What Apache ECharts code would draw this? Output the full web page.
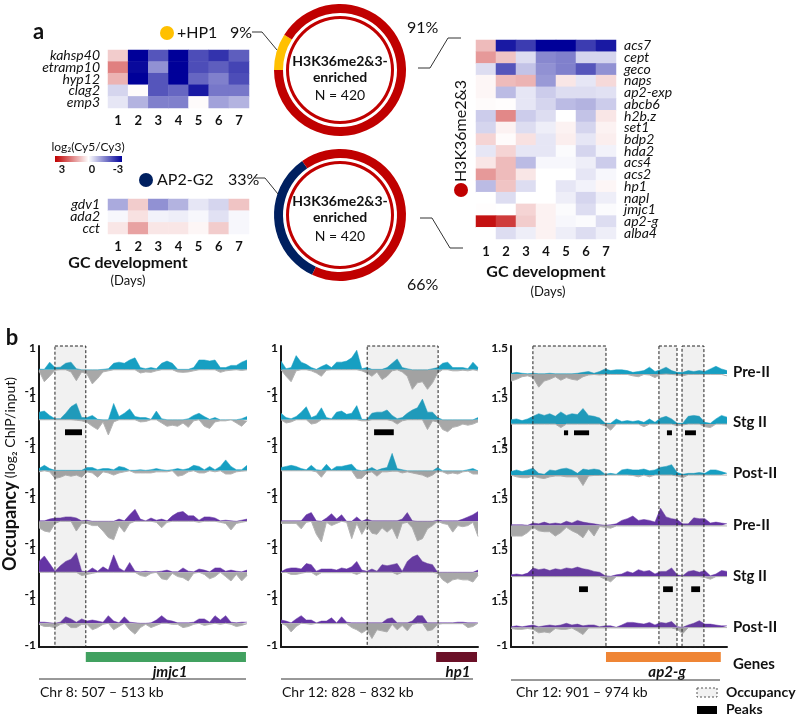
<!DOCTYPE html>
<html><head><meta charset="utf-8">
<script src="https://cdn.jsdelivr.net/npm/echarts@6/dist/echarts.min.js"></script>
<style>html,body{margin:0;padding:0;background:#fff}#c{width:797px;height:714px}</style>
</head><body><div id="c"></div><script>
// ---------------- DATA ----------------
const DAYS = ['1','2','3','4','5','6','7'];
const HP1_GENES = ['kahsp40','etramp10','hyp12','clag2','emp3'];
const HP1_VALUES = [
  [0.6,-3,-2.0,-3,-2.1,-2.4,-1.9],
  [1.5,-2.9,-1.3,-3,-2.1,-1.9,-2.2],
  [0.9,-3,-2.0,-3,-1.8,-1.5,-2.1],
  [-0.5,0.05,-2.0,-1.8,-2.7,-1.6,-1.6],
  [-0.3,-0.9,-1.5,-1.5,0.05,-1.1,-0.9]
];
const AP2G2_GENES = ['gdv1','ada2','cct'];
const AP2G2_VALUES = [
  [-1.0,0.6,-1.3,-0.9,-0.3,-0.5,0.7],
  [-0.1,0.35,-0.15,-0.2,-0.1,-0.35,-0.1],
  [0.3,1.1,0.3,0.3,0.1,0.6,-0.1]
];
const H3K36_GENES = ['acs7','cept','geco','naps','ap2-exp','abcb6','h2b.z','set1','bdp2','hda2','acs4','acs2','hp1','napl','jmjc1','ap2-g','alba4'];
const H3K36_VALUES = [
  [0.8,-2.7,-2.3,-3,-3,-2.3,-2.7],
  [1.2,0.7,-0.4,-1.4,-1.5,-0.5,-0.5],
  [-0.4,-2.0,-0.7,-1.3,-1.5,-2.0,-1.3],
  [0.1,0.8,0.9,-1.2,0.3,-0.3,0.45],
  [0.1,-0.8,-0.3,-0.6,-0.4,-0.4,-0.35],
  [0.05,0.02,-0.3,-0.5,-0.8,-0.9,-0.6],
  [-0.6,1.4,-0.6,-0.4,0,-0.7,0.3],
  [-0.5,0.15,-0.4,-0.2,0.15,-0.5,0.15],
  [0.5,0.05,0.35,-0.3,0.2,-0.3,0.2],
  [-0.3,0.5,-0.3,-0.3,-0.05,-0.5,-0.15],
  [0.3,0.8,-0.8,-0.1,-0.1,-0.2,-0.6],
  [1.2,0.8,0.3,0,0,-0.3,-0.1],
  [-0.8,0.7,-0.4,0,-0.3,-0.15,0.1],
  [0,-0.4,0,0,-0.2,-0.5,-0.2],
  [0.02,0,0.5,0.15,-0.05,-0.4,-0.05],
  [2.8,2.3,0.6,0.15,-0.1,-0.05,-0.4],
  [0,-0.4,-0.2,0.15,-0.2,-0.4,-0.2]
];
const HP1_SHARE = [9, 91];
const AP2G2_SHARE = [33, 66];

// Genome windows (kb)
const JMJC1_KB = [507, 513];
const HP1_KB = [828, 832];
const AP2G_KB = [901, 974];
const TRACK_NAMES = ['Pre-II','Stg II','Post-II','Pre-II','Stg II','Post-II'];

// jmjc1 window tracks (positive / negative parts)
const c1_r1_pos = [0.03,0.02,0.35,0.1,0.12,0.3,0.35,0.05,0,0,0,0,0.02,0.05,0.3,0.35,0.3,0.45,0.55,0.1,0.05,0.1,0.05,0.3,0.4,0.3,0.02,0.02,0.02,0.1,0.45,0.45,0.4,0.45,0.1,0.1,0.2,0.2,0.35,0.45];
const c1_r1_neg = [-0.05,-0.55,-0.3,-0.02,0,0,-0.1,-0.5,-0.1,-0.2,-0.65,-0.4,-0.1,-0.05,0,0,0,0,0,-0.15,-0.1,-0.12,-0.05,0,0,0,-0.1,-0.12,-0.1,-0.05,0,0,0,0,-0.12,-0.05,-0.02,0,-0.03,0];
const c1_r2_pos = [0.35,0.4,0.2,0.05,0.05,0.3,0.6,0.75,0.1,0.1,0.2,0.02,0,0,0.75,0.15,0.3,0.5,0.15,0.1,0.1,0.02,0.4,0.05,0,0,0,0,0.05,0.2,0.3,0.15,0.02,0.1,0,0,0,0,0.05,0.15];
const c1_r2_neg = [0,0,0,0,0,0,0,-0.02,-0.05,-0.12,-0.3,-0.45,-0.1,-0.7,-0.1,0,0,0,0,-0.1,-0.08,0,0,-0.15,-0.3,-0.25,-0.3,-0.15,-0.35,-0.05,0,-0.3,-0.4,-0.1,-0.05,-0.05,0,-0.15,-0.3,-0.05];
const c1_r3_pos = [0.1,0.25,0.1,0.02,0.02,0.02,0.02,0.02,0.02,0.15,0.15,0.05,0.1,0.1,0.05,0.2,0.15,0.02,0.02,0.05,0.02,0.05,0.1,0.05,0.02,0.05,0.1,0.05,0.1,0.25,0.2,0.05,0.2,0.05,0.2,0.5,0.2,0.05,0.05,0.25];
const c1_r3_neg = [-0.05,0,-0.05,-0.35,-0.3,-0.2,-0.25,-0.2,-0.3,-0.05,-0.1,-0.3,-0.05,-0.1,-0.2,-0.1,-0.05,0,-0.1,-0.1,-0.1,-0.1,-0.05,-0.05,-0.05,0,-0.25,-0.2,-0.05,0,-0.1,-0.1,0,-0.05,0,-0.15,-0.15,-0.05,-0.02,0];
const c1_r4_pos = [0.02,0.02,0.1,0.15,0.15,0.2,0.2,0.15,0.02,0.05,0,0,0,0,0,0.1,0.02,0.3,0.55,0.1,0.02,0.15,0.05,0.1,0.02,0.25,0.4,0.45,0.25,0.25,0.05,0.2,0.2,0.15,0.02,0.05,0.02,0,0.05,0.1];
const c1_r4_neg = [-0.3,-0.45,-0.5,-0.1,0,0,0,-0.45,-0.1,-0.1,-0.2,-0.2,-0.45,-0.75,-0.85,-0.2,-0.5,-0.1,0,0,0,0,-0.05,-0.3,-0.05,0,0,0,0,0,-0.05,0,0,0,-0.05,-0.1,-0.4,-0.1,-0.05,0];
const c1_r5_pos = [0.5,0.75,0.4,0.05,0.3,0.5,0.6,0.9,0.05,0.02,0.2,0.05,0.25,0.1,0.8,0.2,0.05,0.45,0.05,0.02,0.05,0.02,0.02,0.05,0.1,0.02,0.02,0.2,0.05,0.02,0.15,0.1,0.02,0.2,0.2,0.05,0.1,0.05,0.02,0.1];
const c1_r5_neg = [0,0,0,0,0,0,0,0,-0.15,-0.1,-0.05,0,0,0,0,0,0,0,0,-0.15,-0.2,-0.05,0,-0.3,-0.35,-0.05,-0.2,-0.25,-0.4,-0.05,0,-0.1,-0.3,-0.2,0,-0.2,-0.4,-0.1,-0.4,-0.15];
const c1_r6_pos = [0.05,0.05,0.02,0,0.05,0.3,0.2,0.05,0.2,0.1,0.15,0.1,0.05,0.35,0.1,0.02,0.3,0.05,0.02,0,0,0.02,0.15,0.35,0.15,0.1,0.02,0.02,0.02,0.05,0.2,0.2,0.05,0.35,0.15,0.35,0.05,0.02,0.05,0.05];
const c1_r6_neg = [-0.05,-0.15,-0.15,-0.2,-0.05,0,-0.2,-0.2,-0.05,-0.05,-0.3,-0.2,-0.05,0,-0.3,-0.15,0,-0.3,-0.5,-0.2,-0.05,-0.2,-0.1,0,0,-0.05,-0.05,-0.2,-0.15,-0.05,0,-0.1,-0.05,0,-0.05,0,-0.05,-0.15,-0.1,-0.02];

// hp1 window tracks
const c2_r1_pos = [0.4,0.05,0.1,0.65,0.35,0.25,0.1,0.02,0.15,0.25,0.1,0.35,0.35,0.4,0.55,0.9,0.05,0.1,0.02,0.02,0.02,0.1,0.3,0.5,0.1,0.05,0,0,0,0,0.05,0.1,0.3,0.35,0.1,0.1,0.1,0.05,0.35,0.1];
const c2_r1_neg = [0,-0.3,-0.55,-0.05,0,0,-0.05,-0.15,-0.3,-0.02,0,0,0,0,0,0,-0.05,-0.15,-0.3,-0.1,-0.45,-0.3,-0.05,0,-0.1,-0.3,-0.9,-0.6,-0.55,-0.9,-0.6,-0.15,0,0,-0.05,-0.05,-0.02,-0.05,0,-0.05];
const c2_r2_pos = [0.3,0.1,0.05,0.15,0.35,0.6,0.1,0.2,0.55,0.1,0.05,0.35,0.4,0.25,0.3,0.65,0.02,0.02,0.3,0.35,0.35,0.45,0.2,0.05,0.1,0.3,0.45,0.55,0.95,0.35,0.35,0.1,0,0,0,0,0,0,0,0.1];
const c2_r2_neg = [0,-0.15,-0.1,0,0,0,-0.2,-0.15,0,0,0,0,0,0,0,0,-0.05,-0.05,0,0,0,0,-0.05,-0.2,-0.05,0,0,0,0,-0.45,-0.05,-0.1,-0.45,-0.55,-0.35,-0.3,-0.2,-0.25,-0.2,-0.1];
const c2_r3_pos = [0.15,0.2,0.25,0.2,0.1,0.05,0.25,0.05,0.02,0.3,0.05,0.2,0.2,0.25,0.3,0.05,0,0.05,0.15,0.02,0.1,0.15,0.8,0.1,0.05,0,0,0,0,0,0,0.15,0,0,0,0,0,0.05,0.1,0];
const c2_r3_neg = [0,0,0,0,0,0,0,-0.05,-0.3,0,0,0,0,0,0,-0.35,-0.35,-0.1,-0.05,-0.25,-0.05,-0.05,-0.02,-0.02,-0.1,-0.05,-0.1,-0.15,-0.2,-0.3,-0.2,-0.02,-0.05,-0.15,-0.1,-0.15,-0.05,-0.02,-0.15,-0.15];
const c2_r4_pos = [0.02,0.02,0.02,0.02,0.02,0.3,0.4,0.02,0,0.15,0.35,0.1,0.3,0,0,0.2,0,0.1,0.02,0.02,0.02,0.02,0.02,0.02,0.1,0.4,0.02,0,0,0,0,0.05,0.02,0.02,0.02,0.02,0.1,0.2,0.3,0.45];
const c2_r4_neg = [-0.1,-0.1,-0.1,-0.1,-0.35,-0.05,0,-0.6,-0.95,-0.05,-0.2,-0.1,0,-0.05,-0.8,-0.1,-0.6,-0.2,-0.55,-0.6,-0.3,-0.5,-0.3,-0.8,-0.1,-0.05,-0.3,-0.9,-0.8,-0.35,-0.2,0,-0.1,-0.15,-0.5,-0.2,-0.25,-0.2,-0.05,-0.7];
const c2_r5_pos = [0.02,0.15,0.2,0.2,0.15,0.4,0.35,0.05,0.15,0.15,0.15,0.1,0.2,0.15,0.25,0.5,0.1,0.05,0.15,0.05,0.35,0.3,0.35,0.4,0.05,0.5,0.7,0.8,0.5,0.4,0.35,0,0,0,0,0,0,0,0,0.1];
const c2_r5_neg = [-0.02,0,-0.1,-0.1,-0.05,0,0,-0.15,-0.02,-0.02,-0.02,-0.02,-0.02,-0.02,-0.02,-0.1,0,0,0,0,0,0,0,-0.1,0,0,0,0,0,0,0,-0.05,-0.35,-0.5,-0.35,-0.3,-0.35,-0.35,-0.45,-0.15];
const c2_r6_pos = [0.15,0.1,0.02,0.2,0.35,0.15,0.15,0.02,0.1,0.1,0.25,0.02,0.3,0.05,0.02,0.02,0.02,0.02,0.02,0.02,0.02,0.2,0.25,0.02,0.02,0.02,0.1,0.35,0.35,0.02,0.02,0.02,0.02,0.02,0.02,0.05,0.05,0.02,0.02,0.02];
const c2_r6_neg = [0,-0.1,-0.4,-0.15,0,-0.02,-0.05,0,-0.02,-0.02,-0.02,-0.02,-0.02,-0.02,-0.2,-0.3,-0.45,-0.3,-0.7,-0.3,-0.35,-0.4,-0.05,-0.3,-0.1,-0.35,-0.05,0,0,-0.35,-0.3,-0.05,-0.02,-0.02,-0.02,-0.02,-0.02,-0.2,-0.15,0];

// ap2-g window tracks
const c3_r1_pos = [0.05,0.1,0.05,0.02,0.05,0.02,0.02,0.05,0.02,0.02,0.02,0.02,0.05,0.1,0.15,0.05,0.15,0.3,0.2,0.25,0.25,0.2,0.1,0.15,0.2,0.4,0.15,0.25,0.4,0.2,0.1,0.1,0.2,0.15,0.2,0.15,0.3,0.45,0.3,0.2];
const c3_r1_neg = [-0.4,-0.3,-0.15,-0.1,-0.2,-0.75,-0.4,-0.3,-0.15,-0.35,-0.2,-0.3,-0.35,-0.15,-0.05,-0.02,-0.05,-0.02,-0.02,-0.02,-0.02,-0.02,-0.1,-0.15,-0.02,-0.05,-0.2,-0.02,0,-0.02,-0.05,-0.1,-0.02,-0.02,-0.02,-0.02,-0.02,-0.02,-0.02,-0.1];
const c3_r2_pos = [0.25,0.3,0.2,0.3,0.45,0.6,0.5,0.6,0.45,0.7,0.5,0.6,0.55,0.9,0.5,0.45,0.35,0.05,0.05,0.3,0.15,0.2,0.15,0.2,0.1,0.3,0.1,0.35,0.45,0.3,0.05,0.05,0.45,0.5,0.45,0.1,0.05,0.3,0.5,0.4];
const c3_r2_neg = [0,0,0,0,0,0,0,0,0,-0.2,0,0,0,0,0,0,0,-0.1,-0.35,0,0,0,0,0,-0.15,0,0,0,0,0,-0.1,-0.05,0,0,0,-0.15,-0.2,0,0,0];
const c3_r3_pos = [0.2,0.3,0.2,0.3,0.4,0.1,0.05,0.3,0.25,0.35,0.4,0.3,0.1,0.35,0.3,0.35,0.3,0.05,0.1,0.05,0.3,0.35,0.3,0.3,0.35,0.25,0.3,0.45,0.5,0.6,0.15,0.05,0.1,0.1,0.15,0.1,0.3,0.3,0.2,0.1];
const c3_r3_neg = [0,-0.1,-0.15,-0.15,-0.05,-0.15,-0.2,-0.1,-0.05,-0.05,-0.1,-0.1,-0.1,-0.6,-0.05,-0.02,-0.02,0,0,0,0,0,-0.02,-0.1,0,-0.1,0,0,0,0,-0.05,-0.15,0,0,0,0,0,0,0,0];
const c3_r4_pos = [0.05,0.05,0.05,0.02,0.15,0.1,0.2,0.1,0.15,0.1,0.25,0.15,0.3,0.2,0.15,0.1,0.05,0.02,0.05,0.1,0.3,0.4,0.55,0.3,0.35,0.3,0.2,1.0,0.5,0.4,0.35,0.1,0.1,0.45,0.4,0.4,0.15,0.2,0.15,0.1];
const c3_r4_neg = [-0.6,-0.6,-0.6,-0.4,-0.1,-0.3,-0.35,-0.35,-0.6,-0.4,-0.1,-0.3,-0.45,-0.7,-0.2,-0.6,-0.05,-0.1,-0.15,-0.02,-0.02,-0.02,-0.02,-0.02,-0.02,-0.02,-0.02,-0.02,-0.02,-0.02,-0.02,-0.02,-0.02,-0.02,-0.02,-0.02,-0.02,-0.02,-0.02,-0.02];
const c3_r5_pos = [0.1,0.15,0.1,0.2,0.5,0.4,0.45,0.35,0.45,0.4,0.5,0.45,0.55,0.45,0.4,0.3,0.25,0.05,0.02,0.1,0.15,0.3,0.2,0.4,0.3,0.35,0.15,0.3,0.3,0.5,0.1,0.05,0.3,0.35,0.25,0.35,0.05,0.15,0.35,0.3];
const c3_r5_neg = [0,0,0,0,0,0,0,0,0,0,0,0,0,0,0,0,0,-0.15,-0.3,0,0,0,0,0,0,0,0,0,0,0,0,0,0,0,0,-0.05,-0.15,0,0,0];
const c3_r6_pos = [0.05,0.1,0.05,0.1,0.15,0.05,0.1,0.15,0.1,0.15,0.25,0.15,0.2,0.1,0.15,0.15,0.05,0.1,0.1,0.02,0.15,0.3,0.3,0.25,0.2,0.3,0.15,0.3,0.25,0.35,0.05,0.02,0.15,0.25,0.4,0.2,0.2,0.15,0.1,0.1];
const c3_r6_neg = [-0.05,-0.1,-0.1,-0.05,-0.1,-0.3,-0.25,-0.3,-0.05,-0.1,-0.1,-0.02,-0.2,-0.4,-0.02,-0.02,-0.02,-0.02,-0.02,-0.02,-0.02,-0.02,-0.02,-0.02,-0.02,-0.02,-0.02,-0.02,-0.02,-0.02,-0.1,-0.35,0,0,0,0,0,0,0,0];

// Occupancy regions, peaks and genes (kb)
const JMJC1_OCC = [[507.46, 508.35]];
const HP1_OCC = [[829.75, 831.19]];
const AP2G_OCC = [[908.4, 933.1],[951.0, 957.1],[958.8, 966.2]];
const JMJC1_PEAKS_STG_TEAL = [[507.75, 508.24]];
const HP1_PEAKS_STG_TEAL = [[829.89, 830.29]];
const AP2G_PEAKS_STG_TEAL = [[918.9, 920.3],[922.3, 927.4],[953.7, 955.4],[959.8, 963.5]];
const AP2G_PEAKS_STG_PURPLE = [[924.0, 927.0],[952.4, 955.7],[961.9, 964.9]];
const JMJC1_GENE = [[508.35, 512.97]];
const HP1_GENE = [[831.15, 831.98]];
const AP2G_GENE = [[933.1, 971.9]];

// ---------------- CHART ----------------
const FF = 'Lato, "Open Sans", "DejaVu Sans", sans-serif';
const TEAL = '#179fc2', GRAY = '#a8a8a8', PURPLE = '#6535a5';
const RED = '#c00000', YELLOW = '#ffc000', NAVY = '#002060';

const grid = [], xAxis = [], yAxis = [], series = [];
function addGrid(g, xa, ya) {
  grid.push(g); const gi = grid.length - 1;
  xAxis.push(Object.assign({gridIndex: gi}, xa));
  yAxis.push(Object.assign({gridIndex: gi}, ya));
  return gi;
}
function hmData(values) {
  const d = [];
  values.forEach((row, r) => row.forEach((v, c) => d.push([c, r, v])));
  return d;
}
function addHeatmap(box, genes, values, labelPos) {
  const gi = addGrid(box,
    {type:'category', data: DAYS, axisLine:{show:false}, axisTick:{show:false}, splitLine:{show:false},
     axisLabel:{fontFamily:FF, fontWeight:'bold', fontSize:13, color:'#111', margin:6}},
    {type:'category', data: genes, inverse:true, position: labelPos, axisLine:{show:false}, axisTick:{show:false}, splitLine:{show:false},
     axisLabel:{fontFamily:FF, fontStyle:'italic', fontSize:14, color:'#111', margin:8, interval:0, lineHeight:12}});
  series.push({type:'heatmap', xAxisIndex:gi, yAxisIndex:gi, data: hmData(values), silent:true,
    itemStyle:{borderWidth:0}, emphasis:{disabled:true}, progressive:0});
}
addHeatmap({left:108, top:50, width:141, height:58}, HP1_GENES, HP1_VALUES, 'left');
addHeatmap({left:108, top:199, width:141, height:35}, AP2G2_GENES, AP2G2_VALUES, 'left');
addHeatmap({left:476, top:40, width:140, height:199}, H3K36_GENES, H3K36_VALUES, 'right');

// donuts
function addDonut(cy, share, color, startAngle) {
  series.push({type:'pie', center:[340, cy], radius:[57, 66], startAngle, silent:true,
    label:{show:false}, labelLine:{show:false}, emphasis:{disabled:true}, itemStyle:{borderWidth:0},
    data:[{value: share[0], itemStyle:{color}}, {value: share[1], itemStyle:{color: RED}}]});
  series.push({type:'pie', center:[340, cy], radius:[51, 54], silent:true,
    label:{show:false}, labelLine:{show:false}, emphasis:{disabled:true}, itemStyle:{borderWidth:0},
    data:[{value: share[0] + share[1], itemStyle:{color: RED}}]});
}
addDonut(70, HP1_SHARE, YELLOW, 180);
addDonut(215, AP2G2_SHARE, NAVY, 245);

// genome tracks
const COLS = [
  {kb: JMJC1_KB, left: 39, width: 208, yMax: 1,
   tracks: [[c1_r1_pos,c1_r1_neg],[c1_r2_pos,c1_r2_neg],[c1_r3_pos,c1_r3_neg],[c1_r4_pos,c1_r4_neg],[c1_r5_pos,c1_r5_neg],[c1_r6_pos,c1_r6_neg]],
   occ: JMJC1_OCC, gene: JMJC1_GENE, geneColor: '#41a160',
   peaks: [{row:1, data: JMJC1_PEAKS_STG_TEAL, y:[-0.44,-0.71]}]},
  {kb: HP1_KB, left: 281, width: 197, yMax: 1,
   tracks: [[c2_r1_pos,c2_r1_neg],[c2_r2_pos,c2_r2_neg],[c2_r3_pos,c2_r3_neg],[c2_r4_pos,c2_r4_neg],[c2_r5_pos,c2_r5_neg],[c2_r6_pos,c2_r6_neg]],
   occ: HP1_OCC, gene: HP1_GENE, geneColor: '#6b1027',
   peaks: [{row:1, data: HP1_PEAKS_STG_TEAL, y:[-0.44,-0.71]}]},
  {kb: AP2G_KB, left: 511, width: 216, yMax: 1.5,
   tracks: [[c3_r1_pos,c3_r1_neg],[c3_r2_pos,c3_r2_neg],[c3_r3_pos,c3_r3_neg],[c3_r4_pos,c3_r4_neg],[c3_r5_pos,c3_r5_neg],[c3_r6_pos,c3_r6_neg]],
   occ: AP2G_OCC, gene: AP2G_GENE, geneColor: '#ef8535',
   peaks: [{row:1, data: AP2G_PEAKS_STG_TEAL, y:[-0.36,-0.64]}, {row:4, data: AP2G_PEAKS_STG_PURPLE, y:[-0.56,-0.89]}]}
];
const TRACK_TOP = [348, 398, 449, 499.5, 550.5, 601.5];
const TRACK_H = 43.5;

function rectItem(fill, stroke, dash) {
  return function(params, api) {
    const p1 = api.coord([api.value(0), api.value(2)]);
    const p2 = api.coord([api.value(1), api.value(3)]);
    return {type:'rect', shape:{x:p1[0], y:p1[1], width:p2[0]-p1[0], height:p2[1]-p1[1]},
      style:{fill, stroke: stroke || null, lineWidth: stroke ? 1 : 0, lineDash: dash || null}};
  };
}

COLS.forEach(col => {
  const [k0, k1] = col.kb;
  col.tracks.forEach((tr, r) => {
    const yMax = col.yMax;
    const gi = addGrid({left: col.left, top: TRACK_TOP[r], width: col.width, height: TRACK_H},
      {type:'value', min:k0, max:k1, show:false},
      {type:'value', min:-1, max:yMax, interval:0.5, axisLine:{show:false}, axisTick:{show:false}, splitLine:{show:false},
       axisLabel:{show:true, margin:3, fontFamily:FF, fontWeight:'bold', fontSize:12, color:'#111',
         formatter: v => (Math.abs(v + 1) < 1e-9 || Math.abs(v - yMax) < 1e-9) ? String(v) : ''}});
    const n = tr[0].length;
    const xs = i => k0 + i * (k1 - k0) / (n - 1);
    const posColor = r < 3 ? TEAL : PURPLE;
    series.push({type:'line', xAxisIndex:gi, yAxisIndex:gi, data: tr[0].map((v,i)=>[xs(i), v]),
      symbol:'none', silent:true, z:2, lineStyle:{width:0.5, color:posColor}, areaStyle:{color:posColor, opacity:1}});
    series.push({type:'line', xAxisIndex:gi, yAxisIndex:gi, data: tr[1].map((v,i)=>[xs(i), v]),
      symbol:'none', silent:true, z:2, lineStyle:{width:1, color:'#b4b4b4'}, areaStyle:{color:GRAY, opacity:1}});
    col.peaks.filter(p => p.row === r).forEach(p => {
      series.push({type:'custom', xAxisIndex:gi, yAxisIndex:gi, silent:true, z:6,
        data: p.data.map(d => [d[0], d[1], p.y[0], p.y[1]]),
        renderItem: rectItem('#000')});
    });
  });
  // frame with occupancy boxes
  const fg = addGrid({left: col.left, top: 346, width: col.width, height: 301},
    {type:'value', min:k0, max:k1, axisLine:{show:true, onZero:false, lineStyle:{color:'#1a1a1a', width:2}}, axisTick:{show:false}, axisLabel:{show:false}, splitLine:{show:false}},
    {type:'value', min:0, max:1, axisLine:{show:true, onZero:false, lineStyle:{color:'#1a1a1a', width:2}}, axisTick:{show:false}, axisLabel:{show:false}, splitLine:{show:false}});
  series.push({type:'custom', xAxisIndex:fg, yAxisIndex:fg, silent:true, z:5,
    data: col.occ.map(d => [d[0], d[1], 1, 0]),
    renderItem: rectItem('rgba(120,120,120,0.10)', '#222', [3, 2])});
  // gene bar
  const gg = addGrid({left: col.left, top: 652, width: col.width, height: 10},
    {type:'value', min:k0, max:k1, show:false}, {type:'value', min:0, max:1, show:false});
  series.push({type:'custom', xAxisIndex:gg, yAxisIndex:gg, silent:true,
    data: col.gene.map(d => [d[0], d[1], 1, 0]), renderItem: rectItem(col.geneColor)});
});

// ---------------- GRAPHICS (labels, leaders) ----------------
function txt(x, y, text, font, align, rot, color) {
  return {type:'text', x, y, rotation: rot || 0, silent:true, z:100,
    style:{text, font, fill: color || '#111', align: align || 'left', verticalAlign:'middle'}};
}
function line(points) {
  return {type:'polyline', silent:true, z:100, shape:{points}, style:{stroke:'#333', lineWidth:1, fill:null}};
}
const F = (w, s, st) => `${st || ''} ${w || ''} ${s}px ${FF}`.trim();
const graphic = [
  txt(33, 32, 'a', F('bold', 22)),
  {type:'circle', shape:{cx:167, cy:33, r:7}, style:{fill:YELLOW}, silent:true},
  txt(177, 33, '+HP1', F('', 16)),
  txt(230, 33, '9%', F('', 16)),
  line([[252,32],[262,32],[277,50]]),
  txt(407, 28, '91%', F('', 16)),
  line([[418,68],[430,68],[448,38],[461,38]]),
  txt(340, 61, 'H3K36me2&3-', F('bold', 14), 'center'),
  txt(340, 77, 'enriched', F('bold', 14), 'center'),
  txt(340, 95, 'N = 420', F('', 14), 'center'),
  txt(88, 147, 'log₂(Cy5/Cy3)', F('', 12), 'center'),
  {type:'rect', silent:true, shape:{x:55, y:156, width:67, height:6},
   style:{fill: new echarts.graphic.LinearGradient(0,0,1,0,[{offset:0,color:RED},{offset:0.5,color:'#ffffff'},{offset:1,color:'#000099'}])}},
  txt(62, 169, '3', F('bold', 11), 'center'),
  txt(92, 169, '0', F('bold', 11), 'center'),
  txt(118, 169, '-3', F('bold', 11), 'center'),
  {type:'circle', shape:{cx:146, cy:180, r:7}, style:{fill:NAVY}, silent:true},
  txt(157, 180, 'AP2-G2', F('', 16)),
  txt(228, 180, '33%', F('', 16)),
  line([[255,178],[265,178],[278,194]]),
  txt(340, 201, 'H3K36me2&3-', F('bold', 14), 'center'),
  txt(340, 217, 'enriched', F('bold', 14), 'center'),
  txt(340, 236, 'N = 420', F('', 14), 'center'),
  txt(407, 285, '66%', F('', 16)),
  line([[420,218],[432,218],[450,248],[463,248]]),
  txt(461, 131, 'H3K36me2&3', F('', 16), 'center', Math.PI/2),
  {type:'circle', shape:{cx:461, cy:190, r:7}, style:{fill:RED}, silent:true},
  txt(128, 263, 'GC development', F('bold', 16), 'center'),
  txt(128, 281, '(Days)', F('', 13), 'center'),
  txt(546, 272, 'GC development', F('bold', 16), 'center'),
  txt(548, 292, '(Days)', F('', 13), 'center'),
  txt(12, 338, 'b', F('bold', 22), 'center'),
  {type:'text', x:10, y:474, rotation:Math.PI/2, silent:true,
   style:{text:'{a|Occupancy} {b|(log₂ ChIP/input)}', align:'center', verticalAlign:'middle',
     rich:{a:{fontFamily:FF, fontWeight:'bold', fontSize:18, fill:'#111'}, b:{fontFamily:FF, fontSize:14, fill:'#111'}}}},
  txt(170, 672, 'jmjc1', F('bold', 15, 'italic'), 'center'),
  txt(458, 672, 'hp1', F('bold', 15, 'italic'), 'center'),
  txt(667, 672, 'ap2-g', F('bold', 15, 'italic'), 'center'),
  line([[39,679],[246,679]]),
  line([[281,679],[473,679]]),
  line([[511,680],[720,680]]),
  txt(40, 692, 'Chr 8: 507 – 513 kb', F('', 14)),
  txt(282, 692, 'Chr 12: 828 – 832 kb', F('', 14)),
  txt(516, 692, 'Chr 12: 901 – 974 kb', F('', 14)),
  txt(733, 664, 'Genes', F('bold', 15)),
  {type:'rect', silent:true, shape:{x:697, y:688, width:20, height:9}, style:{fill:'#f2f2f2', stroke:'#555', lineWidth:1, lineDash:[2,2]}},
  txt(726, 692, 'Occupancy', F('bold', 14)),
  {type:'rect', silent:true, shape:{x:697, y:706, width:20, height:8}, style:{fill:'#000'}},
  txt(726, 709, 'Peaks', F('bold', 14))
];
const LABEL_Y = [372, 422, 473, 525, 576, 627];
TRACK_NAMES.forEach((t, i) => graphic.push(txt(733, LABEL_Y[i], t, F('bold', 15))));

const chart = echarts.init(document.getElementById('c'), null, {renderer:'canvas', width:797, height:714});
chart.setOption({
  animation:false,
  backgroundColor:'#fff',
  textStyle:{fontFamily:FF},
  visualMap:[{type:'continuous', show:false, min:-3, max:3, seriesIndex:[0,1,2],
    inRange:{color:['#000099','#ffffff', RED]}}],
  grid, xAxis, yAxis, series, graphic
});
</script></body></html>
